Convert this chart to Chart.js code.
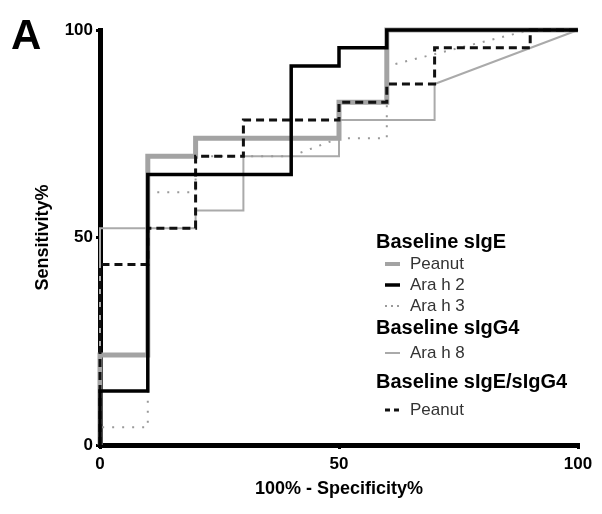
<!DOCTYPE html>
<html>
<head>
<meta charset="utf-8">
<script src="https://cdn.jsdelivr.net/npm/chart.js@4/dist/chart.umd.min.js"></script>
<style>
    html, body { margin: 0; padding: 0; background: #fff; }
    #wrap { position: relative; width: 602px; height: 514px; font-family: "Liberation Sans", Arial, sans-serif; }
    #panel { position: absolute; left: 11px; top: 14px; font-size: 42px; line-height: 42px; font-weight: bold; color: #000; }
    #legend { position: absolute; left: 376px; top: 230px; }
    .hdr { font-weight: bold; font-size: 20px; height: 23px; line-height: 23px; color: #000; white-space: nowrap; }
    .item { font-size: 17px; height: 21px; line-height: 21px; color: #333; display: flex; align-items: center; white-space: nowrap; }
    .item svg { margin-left: 9px; margin-right: 10px; }
</style>
</head>
<body>
<div id="wrap">
    <canvas id="rocChart" width="602" height="514"></canvas>
    <div id="panel">A</div>
    <div id="legend"></div>
</div>
<script>
// ROC curves (1 - specificity, sensitivity), steps of 1/23
const fprPeanutIgE = [0, 0, 10, 10, 20, 20, 50, 50, 60, 60, 100];
const tprPeanutIgE = [0, 21.7, 21.7, 69.6, 69.6, 73.9, 73.9, 82.6, 82.6, 100, 100];

const fprAraH2 = [0, 0, 10, 10, 40, 40, 50, 50, 60, 60, 100];
const tprAraH2 = [0, 13.0, 13.0, 65.2, 65.2, 91.3, 91.3, 95.7, 95.7, 100, 100];

const fprAraH3 = [0, 0, 10, 10, 20, 20, 40, 50, 60, 60, 90, 100];
const tprAraH3 = [0, 4.3, 4.3, 60.9, 60.9, 69.6, 69.6, 73.9, 73.9, 91.3, 100, 100];

const fprAraH8 = [0, 0, 20, 20, 30, 30, 50, 50, 70, 70, 100];
const tprAraH8 = [0, 52.2, 52.2, 56.5, 56.5, 69.6, 69.6, 78.3, 78.3, 87.0, 100];

const fprPeanutRatio = [0, 0, 10, 10, 20, 20, 30, 30, 50, 50, 60, 60, 70, 70, 90, 90, 100];
const tprPeanutRatio = [0, 43.5, 43.5, 52.2, 52.2, 69.6, 69.6, 78.3, 78.3, 82.6, 82.6, 87.0, 87.0, 95.7, 95.7, 100, 100];

const groupNames = ['Baseline sIgE', 'Baseline sIgG4', 'Baseline sIgE/sIgG4'];
const seriesNames = ['Peanut', 'Ara h 2', 'Ara h 3', 'Ara h 8', 'Peanut'];
const seriesGroup = [0, 0, 0, 1, 2];
const axisTicks = [0, 50, 100];

const toPoints = (xs, ys) => xs.map((x, i) => ({ x: x, y: ys[i] }));

// 線のスタイル（凡例と共通）
const styles = [
    { color: '#a3a3a3', width: 5, dash: [], legendDash: [], order: 2 },
    { color: '#000000', width: 3.5, dash: [], legendDash: [], order: 0 },
    { color: '#9a9a9a', width: 2, dash: [2, 8], legendDash: [2, 4], order: 3 },
    { color: '#aaaaaa', width: 2, dash: [], legendDash: [], order: 4 },
    { color: '#111111', width: 3, dash: [8, 5], legendDash: [5, 4], order: 1 }
];

const seriesData = [
    toPoints(fprPeanutIgE, tprPeanutIgE),
    toPoints(fprAraH2, tprAraH2),
    toPoints(fprAraH3, tprAraH3),
    toPoints(fprAraH8, tprAraH8),
    toPoints(fprPeanutRatio, tprPeanutRatio)
];

const datasets = seriesData.map((pts, i) => ({
    label: seriesNames[i],
    data: pts,
    borderColor: styles[i].color,
    borderWidth: styles[i].width,
    borderDash: styles[i].dash,
    borderCapStyle: 'butt',
    borderJoinStyle: 'miter',
    pointRadius: 0,
    tension: 0,
    fill: false,
    order: styles[i].order,
    clip: false
}));

const tickFont = { family: '"Liberation Sans", Arial, sans-serif', size: 17, weight: 'bold' };
const titleFont = { family: '"Liberation Sans", Arial, sans-serif', size: 18, weight: 'bold' };

new Chart(document.getElementById('rocChart').getContext('2d'), {
    type: 'line',
    data: { datasets: datasets },
    options: {
        responsive: false,
        animation: false,
        layout: { padding: { top: 30, right: 24, bottom: 0, left: 0 } },
        plugins: { legend: { display: false }, tooltip: { enabled: false } },
        scales: {
            x: {
                type: 'linear',
                min: 0, max: 100,
                afterFit: s => { s.height = 69; },
                afterBuildTicks: s => { s.ticks = axisTicks.map(v => ({ value: v })); },
                ticks: { color: '#000', font: tickFont, padding: 5, maxRotation: 0 },
                grid: { drawOnChartArea: false, drawTicks: true, tickLength: 4, color: '#000', lineWidth: 3 },
                border: { color: '#000', width: 5 },
                title: { display: true, text: '100% - Specificity%', color: '#000', font: titleFont, padding: { top: 0, bottom: 14 } }
            },
            y: {
                type: 'linear',
                min: 0, max: 100,
                afterFit: s => { s.width = 100; },
                afterBuildTicks: s => { s.ticks = axisTicks.map(v => ({ value: v })); },
                ticks: { color: '#000', font: tickFont, padding: 3 },
                grid: { drawOnChartArea: false, drawTicks: true, tickLength: 4, color: '#000', lineWidth: 3 },
                border: { color: '#000', width: 5 },
                title: { display: true, text: 'Sensitivity%', color: '#000', font: titleFont, padding: { top: 32, bottom: 0 } }
            }
        }
    }
});

// 凡例（グループ見出し付き）
const legendGaps = { header: [0, 0, 7], item: [0, 0, 0, 3, 6] };
const legend = document.getElementById('legend');
let lastGroup = -1;
seriesNames.forEach((name, i) => {
    const g = seriesGroup[i];
    if (g !== lastGroup) {
        const h = document.createElement('div');
        h.className = 'hdr';
        h.textContent = groupNames[g];
        h.style.marginTop = legendGaps.header[g] + 'px';
        legend.appendChild(h);
        lastGroup = g;
    }
    const row = document.createElement('div');
    row.className = 'item';
    row.style.marginTop = legendGaps.item[i] + 'px';
    const st = styles[i];
    const svgNS = 'http://www.w3.org/2000/svg';
    const svg = document.createElementNS(svgNS, 'svg');
    svg.setAttribute('width', '15');
    svg.setAttribute('height', '10');
    const ln = document.createElementNS(svgNS, 'line');
    ln.setAttribute('x1', '0'); ln.setAttribute('y1', '5');
    ln.setAttribute('x2', '15'); ln.setAttribute('y2', '5');
    ln.setAttribute('stroke', st.color);
    ln.setAttribute('stroke-width', Math.min(st.width, 4));
    if (st.legendDash.length) ln.setAttribute('stroke-dasharray', st.legendDash.join(' '));
    svg.appendChild(ln);
    row.appendChild(svg);
    const t = document.createElement('span');
    t.textContent = name;
    row.appendChild(t);
    legend.appendChild(row);
});
</script>
</body>
</html>
